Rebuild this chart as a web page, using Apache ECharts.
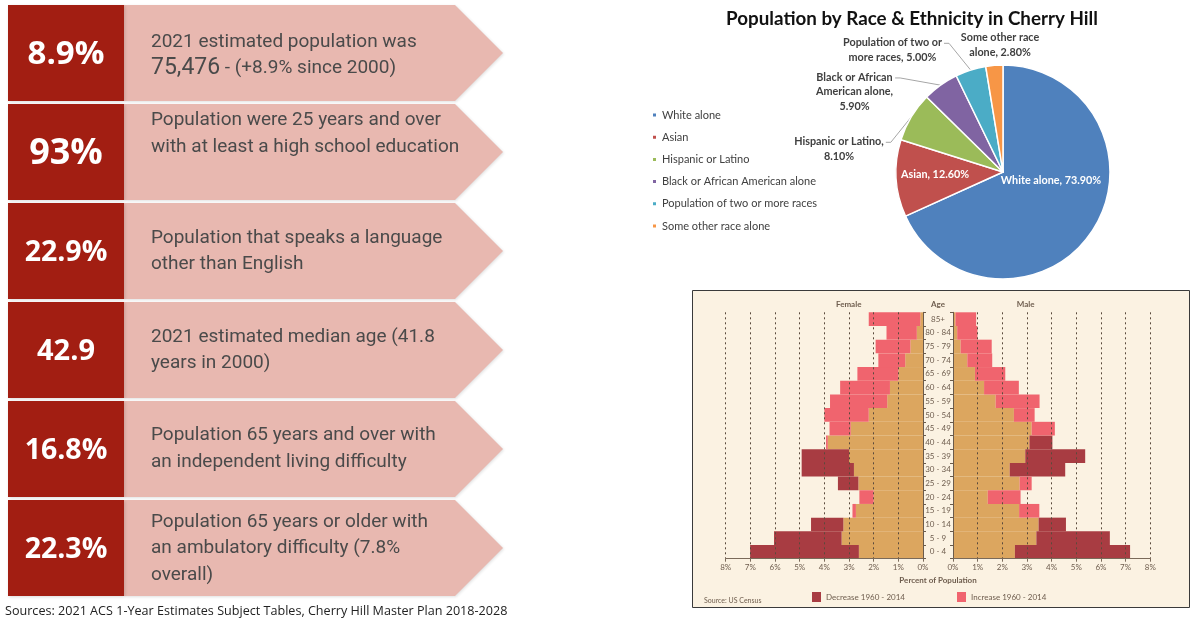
<!DOCTYPE html>
<html><head><meta charset="utf-8">
<script src="https://cdn.jsdelivr.net/npm/echarts@6/dist/echarts.min.js"></script>
<style>html,body{margin:0;padding:0;background:#fff}#c{width:1195px;height:620px}</style>
</head><body><div id="c"></div>
<script>
// ---- Key statistics (left panel) ----
const statValues = ['8.9%', '93%', '22.9%', '42.9', '16.8%', '22.3%'];
const statTexts = [
  '2021 estimated population was\n{b|75,476} - (+8.9% since 2000)',
  'Population were 25 years and over\nwith at least a high school education',
  'Population that speaks a language\nother than English',
  '2021 estimated median age (41.8\nyears in 2000)',
  'Population 65 years and over with\nan independent living difficulty',
  'Population 65 years or older with\nan ambulatory difficulty (7.8%\noverall)'
];
const sourceText = 'Sources: 2021 ACS 1-Year Estimates Subject Tables, Cherry Hill Master Plan 2018-2028';

// ---- Race & ethnicity pie ----
const pieTitle = 'Population by Race & Ethnicity in Cherry Hill';
const raceNames = ['White alone', 'Asian', 'Hispanic or Latino', 'Black or African American alone',
  'Population of two or more races', 'Some other race alone'];
const raceValues = [73.9, 12.6, 8.1, 5.9, 5.0, 2.8];

// ---- Population pyramid (percent of population) ----
const ageGroups = ['0 - 4', '5 - 9', '10 - 14', '15 - 19', '20 - 24', '25 - 29', '30 - 34', '35 - 39',
  '40 - 44', '45 - 49', '50 - 54', '55 - 59', '60 - 64', '65 - 69', '70 - 74', '75 - 79', '80 - 84', '85+'];
const femaleShared   = [2.60, 3.30, 3.23, 2.72, 2.00, 2.62, 2.80, 3.00, 3.86, 2.93, 2.20, 1.45, 1.34, 1.00, 0.72, 0.51, 0.25, 0.11];
const femaleDecrease = [4.41, 2.74, 1.31, 0, 0, 0.83, 2.12, 1.92, 0, 0, 0, 0, 0, 0, 0, 0, 0, 0];
const femaleIncrease = [0, 0, 0, 0.14, 0.58, 0, 0, 0, 0.07, 0.86, 1.80, 2.32, 2.02, 1.66, 1.09, 1.41, 1.23, 2.09];
const maleShared     = [2.51, 3.38, 3.47, 2.68, 1.41, 2.70, 2.30, 2.93, 3.10, 3.19, 2.47, 1.73, 1.26, 0.89, 0.58, 0.31, 0.17, 0.10];
const maleDecrease   = [4.67, 2.98, 1.11, 0, 0, 0, 2.25, 2.43, 0.93, 0, 0, 0, 0, 0, 0, 0, 0, 0];
const maleIncrease   = [0, 0, 0, 0.82, 1.33, 0.49, 0, 0, 0, 0.94, 0.84, 1.78, 1.41, 1.23, 1.01, 1.26, 0.82, 0.84];
const decreaseName = 'Decrease 1960 - 2014';
const increaseName = 'Increase 1960 - 2014';

// ---- styling ----
const raceColors = ['#4F81BD', '#C0504D', '#9BBB59', '#8064A2', '#4BACC6', '#F79646'];
const tanColor = '#DCA65F', darkColor = '#A83C42', pinkColor = '#F0646E';
const pyrText = '#6e5d4e';
const statFontSizes = [33, 36, 28.5, 29, 28.5, 28.5];
const descOffsets = [2, -18.5, 0, 0, -0.5, 0.5];

const chart = echarts.init(document.getElementById('c'));

// left panel graphics
const graphics = [];
const rowTop0 = 5, rowPitch = 99, rowH = 96;
statValues.forEach((v, i) => {
  const top = rowTop0 + i * rowPitch;
  graphics.push({type: 'polygon', shape: {points: [[124, top], [455, top], [503, top + rowH / 2], [455, top + rowH], [124, top + rowH]]},
    style: {fill: '#E8B8B0', shadowColor: 'rgba(0,0,0,0.12)', shadowBlur: 3, shadowOffsetX: 1, shadowOffsetY: 1}});
  graphics.push({type: 'rect', shape: {x: 8, y: top, width: 116, height: rowH},
    style: {fill: '#A21E12', shadowColor: 'rgba(0,0,0,0.15)', shadowBlur: 3, shadowOffsetX: 1, shadowOffsetY: 1}});
  graphics.push({type: 'text', x: 66, y: top + rowH / 2 + 1.5,
    style: {text: v, fill: '#fff', fontFamily: 'Open Sans', fontWeight: 'bold', fontSize: statFontSizes[i], align: 'center', verticalAlign: 'middle'}});
  graphics.push({type: 'text', x: 151, y: top + rowH / 2 + descOffsets[i],
    style: {text: statTexts[i], fill: '#4a4a4a', fontFamily: 'Roboto', fontSize: 19, lineHeight: 26.5,
      align: 'left', verticalAlign: 'middle',
      rich: {b: {fontFamily: 'Roboto', fontSize: 23, lineHeight: 26.5, fill: '#4a4a4a'}}}});
});
graphics.push({type: 'text', x: 5, y: 611, style: {text: sourceText, fill: '#222', fontFamily: 'Open Sans', fontSize: 12.6, align: 'left', verticalAlign: 'middle'}});

// pyramid background box and texts
graphics.push({type: 'rect', z: -10, shape: {x: 692.5, y: 290.5, width: 497, height: 317}, style: {fill: '#FBF2E2', stroke: '#3a3a3a', lineWidth: 1}});
const pyrLabel = (t, x, y, size, bold, align) => graphics.push({type: 'text', x, y,
  style: {text: t, fill: pyrText, fontFamily: 'Lato', fontSize: size, fontWeight: bold ? 'bold' : 'normal', align: align || 'center', verticalAlign: 'middle'}});
pyrLabel('Female', 848.7, 304, 8, true);
pyrLabel('Age', 938, 304, 8, true);
pyrLabel('Male', 1025.7, 304, 8, true);
pyrLabel('Percent of Population', 938, 580.7, 8, true);
pyrLabel('Source: US Census', 704, 601, 7, false, 'left');

// pie label positions
const labelAnchor = [[1051, 181], [935, 175], [839, 149], [854.5, 92], [892.5, 50], [1000, 45]];
const labelBreaks = {2: [3], 3: [3, 5], 4: [4], 5: [3]};
function pieLabel(p) {
  const words = (p.name + ', ' + p.value.toFixed(2) + '%').split(' ');
  const br = labelBreaks[p.dataIndex] || [];
  let out = '';
  words.forEach((w, k) => { out += (k === 0 ? '' : (br.includes(k) ? '\n' : ' ')) + w; });
  return out;
}

const pyrAxisX = (grid, inverse) => ({
  gridIndex: grid, type: 'value', min: 0, max: 8, interval: 1, inverse, z: 5,
  axisLabel: {formatter: '{value}%', fontSize: 8, color: pyrText, fontFamily: 'Lato', margin: 5},
  axisLine: {show: true, lineStyle: {color: '#7a6a5a', width: 1}},
  axisTick: {show: true, length: 3, lineStyle: {color: '#7a6a5a'}},
  splitLine: {show: true, lineStyle: {type: [2, 3], color: '#5a4a3c', width: 1}}
});
const pyrAxisY = (grid, pos, showLabel) => ({
  gridIndex: grid, type: 'category', data: ageGroups, position: pos, z: 5,
  axisLine: {show: true, onZero: false, lineStyle: {color: '#6b5b4b', width: 1}},
  axisTick: {show: true, length: 3, lineStyle: {color: '#6b5b4b'}},
  axisLabel: {show: showLabel, align: 'center', margin: 15, fontSize: 8, color: pyrText, fontFamily: 'Lato'}
});
const barSeries = (name, grid, stack, data, color) => ({
  name, type: 'bar', xAxisIndex: grid, yAxisIndex: grid, stack, data, barCategoryGap: '0%',
  itemStyle: {color}, silent: true
});

chart.setOption({
  animation: false,
  title: {text: pieTitle, left: 907, top: 4, textAlign: 'center',
    textStyle: {fontFamily: 'Lato', fontWeight: 'bold', fontSize: 18.8, color: '#111'}},
  legend: [
    {data: raceNames, left: 646, top: 104, orient: 'vertical', itemWidth: 5, itemHeight: 5, icon: 'rect', itemGap: 10.2,
      textStyle: {fontFamily: 'Lato', fontSize: 11, color: '#404040', lineHeight: 12}},
    {data: [decreaseName], left: 807, top: 587, itemWidth: 9, itemHeight: 10, icon: 'rect',
      textStyle: {fontFamily: 'Lato', fontSize: 8, color: pyrText}},
    {data: [increaseName], left: 952, top: 587, itemWidth: 9, itemHeight: 10, icon: 'rect',
      textStyle: {fontFamily: 'Lato', fontSize: 8, color: pyrText}}
  ],
  grid: [
    {left: 725.7, width: 197.3, top: 312.3, height: 246.4},
    {left: 953, width: 197.3, top: 312.3, height: 246.4}
  ],
  xAxis: [pyrAxisX(0, true), pyrAxisX(1, false)],
  yAxis: [pyrAxisY(0, 'right', true), pyrAxisY(1, 'left', false)],
  graphic: graphics,
  series: [
    barSeries('Female shared', 0, 'f', femaleShared, tanColor),
    barSeries(decreaseName, 0, 'f', femaleDecrease, darkColor),
    barSeries(increaseName, 0, 'f', femaleIncrease, pinkColor),
    barSeries('Male shared', 1, 'm', maleShared, tanColor),
    barSeries(decreaseName, 1, 'm', maleDecrease, darkColor),
    barSeries(increaseName, 1, 'm', maleIncrease, pinkColor),
    {
      type: 'pie', center: [1003, 172], radius: 107, startAngle: 90, clockwise: true,
      avoidLabelOverlap: false,
      itemStyle: {borderColor: '#fff', borderWidth: 1.5},
      label: {show: true, formatter: pieLabel, fontFamily: 'Lato', fontWeight: 'bold', fontSize: 10.8, color: '#404040', lineHeight: 14.7},
      labelLine: {show: true, length: 10, length2: 10, lineStyle: {color: '#a6a6a6', width: 1}},
      labelLayout: function (p) {
        const i = p.dataIndex, a = labelAnchor[i];
        const res = {x: a[0], y: a[1], align: 'center', verticalAlign: 'middle'};
        if ((i === 2 || i === 3 || i === 4) && p.labelLinePoints) {
          const w = p.labelRect.width, h = p.labelRect.height;
          const ly = a[1] - h / 2 + 8;
          const rx = a[0] + w / 2 + 2;
          res.labelLinePoints = [p.labelLinePoints[0], [rx + 5, ly], [rx, ly]];
        }
        return res;
      },
      data: raceNames.map((n, i) => ({
        name: n, value: raceValues[i], itemStyle: {color: raceColors[i]},
        label: i < 2 ? {color: '#fff', fontSize: 10.8} : {},
        labelLine: (i < 2 || i === 5) ? {show: false} : {}
      }))
    }
  ]
});
</script></body></html>
